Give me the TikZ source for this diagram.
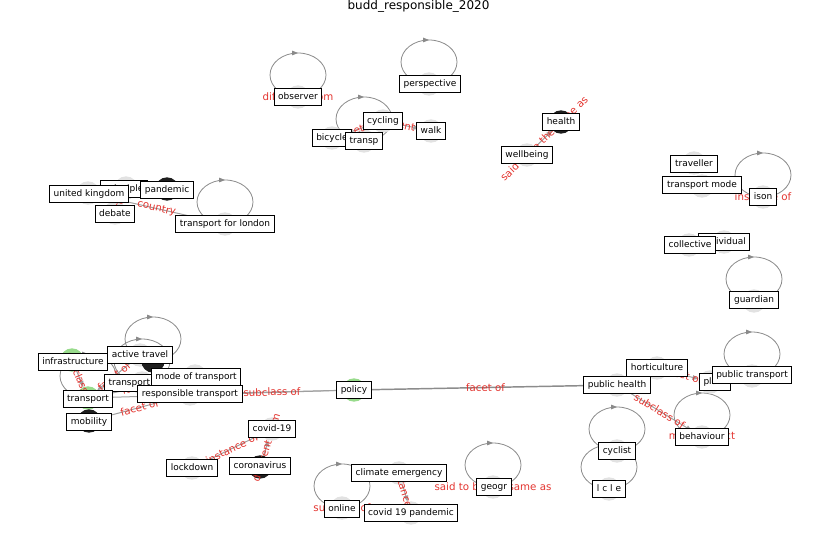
\documentclass[tikz,border=0pt]{standalone}
\usepackage{fontspec}
\setmainfont{DejaVu Sans}
\usetikzlibrary{arrows.meta,decorations.markings}
\pgfdeclarelayer{bg}\pgfdeclarelayer{fg}\pgfsetlayers{bg,main,fg}
\definecolor{ngray}{HTML}{E2E2E2}
\definecolor{ngreen}{HTML}{98DB8C}
\definecolor{nblack}{HTML}{1E1E1E}
\definecolor{elred}{HTML}{E3342F}
\definecolor{edgegray}{HTML}{A0A0A0}
\definecolor{loopgray}{HTML}{8A8A8A}
\tikzset{
 vtx/.style={circle, minimum size=17.5pt, inner sep=0pt, draw=none, fill=ngray},
 vblack/.style={vtx, fill=nblack},
 vgreen/.style={vtx, fill=ngreen},
 lbox/.style={draw=black, line width=0.75pt, fill=white, inner xsep=3.1pt, inner ysep=2.9pt,
   font=\fontsize{6.75}{8}\selectfont, text height=5.1pt, text depth=1.5pt},
 elab/.style={text=elred, font=\fontsize{7.7}{9}\selectfont, inner sep=0.6pt},
 conn/.style={draw=edgegray, line width=0.75pt, -{Triangle[length=4.5pt,width=3.5pt]}},
 mainconn/.style={conn, draw=black!45, line width=1.1pt},
 sloop/.style={draw=loopgray, line width=0.6pt, postaction={decorate},
   decoration={markings, mark=at position 0.5 with {\arrow[loopgray]{Triangle[length=4.5pt,width=3.5pt]}}}},
}
\newcommand\selfloop[1]{\begin{pgfonlayer}{bg}\draw[sloop] (#1.center) arc[start angle=270, end angle=-90, x radius=21pt, y radius=16.5pt];\end{pgfonlayer}}
\begin{document}
\begin{tikzpicture}[x=0.75pt,y=-0.75pt]
\useasboundingbox (0,0) rectangle (837,559);
\node[font=\fontsize{9}{11}\selectfont] (title) at (418.5,6) {budd\_responsible\_2020};
% vertices
\node[vtx] (ob) at (298,97) {};
\node[vtx] (per) at (429,84) {};
\node[vtx] (cyc) at (383,121) {};
\node[vtx] (bic) at (332,138) {};
\node[vtx] (trp) at (364,141) {};
\node[vtx] (walk) at (431,131) {};
\node[vblack] (hea) at (561,122) {};
\node[vtx] (wel) at (527,155) {};
\node[vtx] (trav) at (694,163) {};
\node[vtx] (tmode) at (702,186) {};
\node[vtx] (ison) at (763,197) {};
\node[vtx] (coll) at (689,245) {};
\node[vtx] (indiv) at (724,242) {};
\node[vtx] (guard) at (754,301) {};
\node[vtx] (uk) at (88,193) {};
\node[vtx] (prin) at (126,188) {};
\node[vblack] (pand) at (167,189) {};
\node[vtx] (deb) at (115,213) {};
\node[vtx] (tfl) at (225,224) {};
\node[vgreen] (infra) at (72,360) {};
\node[vtx] (act) at (140,355) {};
\node[vblack] (hid) at (153,361) {};
\node[vtx] (tpol) at (142,383) {};
\node[vtx] (mot) at (195,376) {};
\node[vtx] (rtr) at (190,394) {};
\node[vgreen] (trans) at (88,398) {};
\node[vblack] (mob) at (89,421) {};
\node[vgreen] (pol) at (354,390) {};
\node[vtx] (cov) at (272,429) {};
\node[vtx] (lock) at (192,468) {};
\node[vblack] (coro) at (260,467) {};
\node[vtx] (clim) at (399,473) {};
\node[vtx] (cpan) at (411,513) {};
\node[vtx] (onl) at (342,508) {};
\node[vtx] (geo) at (493,487) {};
\node[vtx] (phea) at (617,385) {};
\node[vtx] (hort) at (657,368) {};
\node[vtx] (plant) at (710,382) {};
\node[vtx] (ptr) at (752,376) {};
\node[vtx] (beh) at (702,437) {};
\node[vtx] (cycl) at (617,451) {};
\node[vtx] (lcle) at (609,489) {};
% self loops
\selfloop{ob}\selfloop{per}\selfloop{trp}\selfloop{ison}\selfloop{guard}
\selfloop{tfl}\selfloop{hid}\selfloop{tpol}\selfloop{trans}\selfloop{onl}
\selfloop{geo}\selfloop{ptr}\selfloop{beh}\selfloop{cycl}\selfloop{lcle}
% connectors
\draw[conn] (uk) -- node[elab, sloped] {country} (tfl);
\draw[conn] (prin) -- node[elab, sloped] {facet of} (deb);
\draw[conn] (wel) -- node[elab, sloped] {said to be the same as} (hea);
\draw[conn] (bic) -- node[elab, sloped] {facet of} (cyc);
\draw[conn] (cyc) -- node[elab, sloped] {different from} (walk);
\draw[conn] (infra) -- node[elab, sloped] {subclass of} (trans);
\draw[conn] (act) -- node[elab, sloped] {facet of} (trans);
\draw[conn] (trans) -- node[elab, sloped] {facet of} (mot);
\draw[conn] (trans) -- (pol);
\draw[conn] (mob) -- node[elab, sloped] {facet of} (rtr);
\draw[conn] (rtr) -- node[elab, sloped] {subclass of} (pol);
\draw[mainconn] (pol) -- node[elab, sloped] {facet of} (phea);
\draw[conn] (lock) -- node[elab, sloped] {instance of} (cov);
\draw[conn] (coro) -- node[elab, sloped] {different from} (cov);
\draw[conn] (clim) -- node[elab, sloped] {instance of} (cpan);
\draw[conn] (phea) -- node[elab, sloped] {subclass of} (beh);
\draw[conn] (hort) -- node[elab, sloped] {facet of} (plant);
% self-loop labels
\node[elab] (obl) at (ob) {different from};
\node[elab] (isonl) at (ison) {instance of};
\node[elab] (onll) at (onl) {subclass of};
\node[elab] (geol) at (geo) {said to be the same as};
\node[elab] (behl) at (beh) {main subject};
% label boxes
\begin{pgfonlayer}{fg}
\node[lbox] (ob-t) at (298,97) {observer};
\node[lbox] (per-t) at (430,84) {perspective};
\node[lbox] (bic-t) at (332,138) {bicycle};
\node[lbox] (cyc-t) at (383,121) {cycling};
\node[lbox] (trp-t) at (364,141) {transp};
\node[lbox] (walk-t) at (431,131) {walk};
\node[lbox] (hea-t) at (561,122) {health};
\node[lbox] (wel-t) at (527,155) {wellbeing};
\node[lbox] (trav-t) at (694,164) {traveller};
\node[lbox] (tmode-t) at (702,185) {transport mode};
\node[lbox] (ison-t) at (763,197) {ison};
\node[lbox] (indiv-t) at (724,242) {individual};
\node[lbox] (coll-t) at (690,245) {collective};
\node[lbox] (guard-t) at (754,300) {guardian};
\node[lbox] (prin-t) at (124,189) {principle};
\node[lbox] (uk-t) at (89,194) {united kingdom};
\node[lbox] (pand-t) at (167,190) {pandemic};
\node[lbox] (deb-t) at (115,214) {debate};
\node[lbox] (tfl-t) at (225,224) {transport for london};
\node[lbox] (infra-t) at (73,362) {infrastructure};
\node[lbox] (tpol-t) at (144,383) {transport policy};
\node[lbox] (act-t) at (140,355) {active travel};
\node[lbox] (mot-t) at (196,377) {mode of transport};
\node[lbox] (trans-t) at (88,399) {transport};
\node[lbox] (rtr-t) at (190,394) {responsible transport};
\node[lbox] (mob-t) at (89,422) {mobility};
\node[lbox] (pol-t) at (354,390) {policy};
\node[lbox] (cov-t) at (272,429) {covid-19};
\node[lbox] (lock-t) at (192,468) {lockdown};
\node[lbox] (coro-t) at (260,466) {coronavirus};
\node[lbox] (clim-t) at (399,473) {climate emergency};
\node[lbox] (onl-t) at (342,509) {online};
\node[lbox] (cpan-t) at (411,513) {covid 19 pandemic};
\node[lbox] (geo-t) at (494,487) {geogr};
\node[lbox] (hort-t) at (657,368) {horticulture};
\node[lbox] (phea-t) at (617,385) {public health};
\node[lbox] (plant-t) at (715,382) {plant};
\node[lbox] (ptr-t) at (752,375) {public transport};
\node[lbox] (beh-t) at (702,437) {behaviour};
\node[lbox] (cycl-t) at (617,451) {cyclist};
\node[lbox] (lcle-t) at (609,489) {l c l e};
\end{pgfonlayer}
\end{tikzpicture}
\end{document}
